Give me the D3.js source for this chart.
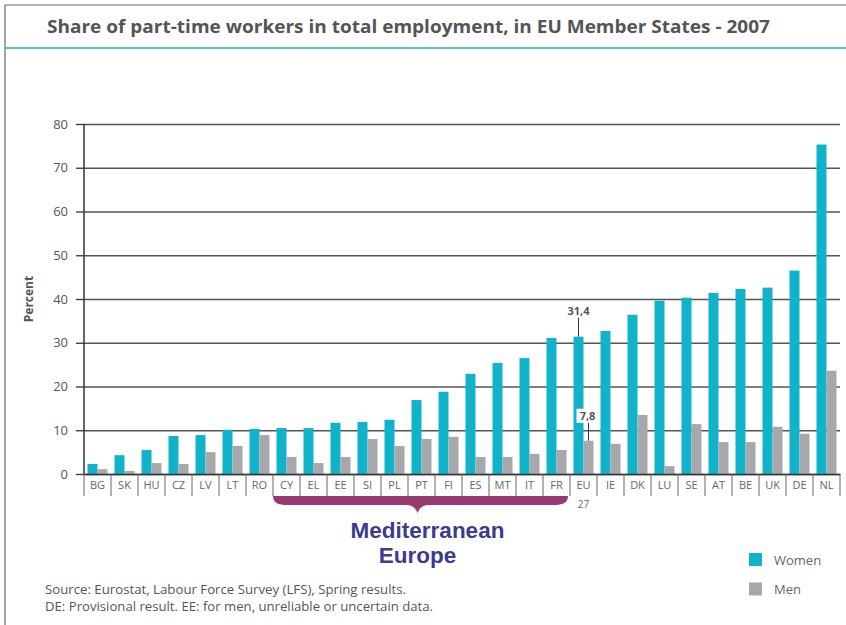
<!DOCTYPE html>
<html>
<head>
<meta charset="utf-8">
<script src="https://cdn.jsdelivr.net/npm/d3@7"></script>
<style>
  body { margin: 0; background: #fff; }
  text { font-family: "Open Sans", sans-serif; }
</style>
</head>
<body>
<div id="chart"></div>
<script>
(function() {

  var width = 846;
  var height = 625;
  var margin = ({top: 124, right: 6, bottom: 151, left: 84});

  // data
  var countries = ['BG', 'SK', 'HU', 'CZ', 'LV', 'LT', 'RO', 'CY', 'EL', 'EE', 'SI', 'PL', 'PT', 'FI',
                   'ES', 'MT', 'IT', 'FR', 'EU', 'IE', 'DK', 'LU', 'SE', 'AT', 'BE', 'UK', 'DE', 'NL'];
  var women = [2.3, 4.3, 5.5, 8.7, 8.9, 10.1, 10.3, 10.5, 10.5, 11.7, 11.9, 12.4, 16.9, 18.8,
               22.9, 25.4, 26.5, 31.1, 31.4, 32.7, 36.4, 39.6, 40.3, 41.4, 42.3, 42.6, 46.5, 75.3];
  var men = [1.1, 0.7, 2.5, 2.3, 5.0, 6.4, 8.9, 3.9, 2.5, 3.9, 8.0, 6.4, 8.0, 8.5,
             3.9, 3.9, 4.6, 5.5, 7.6, 6.9, 13.5, 1.8, 11.4, 7.3, 7.3, 10.8, 9.2, 23.6];
  var series = ['Women', 'Men'];
  var colors = ['#10b3c9', '#a7a8ab'];
  var yTicks = [0, 10, 20, 30, 40, 50, 60, 70, 80];
  var mediterranean = ['CY', 'FR'];

  var data = countries.map((c, i) => ({name: c, values: [
    {key: 'Women', value: women[i]},
    {key: 'Men', value: men[i]}
  ]}));

  var x = d3.scaleBand()
    .domain(countries)
    .range([margin.left, width - margin.right]);

  var x1 = d3.scaleBand()
    .domain(series)
    .range([0, x.bandwidth()])
    .paddingOuter(0.35);

  var y = d3.scaleLinear()
    .domain([0, 80])
    .range([height - margin.bottom, margin.top]);

  var color = d3.scaleOrdinal().domain(series).range(colors);

  const svg = d3.select('#chart')
    .append('svg')
    .attr('width', width)
    .attr('height', height);

  // frame
  svg.append('path')
    .attr('d', `M5,${height} V5 H${width}`)
    .attr('fill', 'none')
    .attr('stroke', '#666')
    .attr('stroke-width', 1.2);

  svg.append('line')
    .attr('x1', 5).attr('x2', width)
    .attr('y1', 48).attr('y2', 48)
    .attr('stroke', '#1bb5cc')
    .attr('stroke-width', 1.5);

  svg.append('text')
    .attr('x', 47).attr('y', 33)
    .attr('font-size', 18.5)
    .attr('font-weight', 'bold')
    .attr('fill', '#555')
    .attr('textLength', 723)
    .attr('lengthAdjust', 'spacingAndGlyphs')
    .text('Share of part-time workers in total employment, in EU Member States - 2007');

  // gridlines
  svg.append('g')
    .attr('transform', `translate(${margin.left},0)`)
    .call(d3.axisLeft(y).tickValues(yTicks).tickSize(-(width - margin.right - margin.left)).tickFormat(''))
    .call(g => g.select('.domain').remove())
    .call(g => g.selectAll('.tick line').attr('stroke', '#555').attr('stroke-width', 1.3));

  // y axis
  svg.append('g')
    .attr('transform', `translate(${margin.left},0)`)
    .call(d3.axisLeft(y).tickValues(yTicks).tickSize(8).tickPadding(8))
    .call(g => g.select('.domain').attr('stroke', '#333').attr('stroke-width', 1.5).attr('d', `M0,${y(80)}V${y(0)}`))
    .call(g => g.selectAll('.tick line').attr('stroke', '#333').attr('stroke-width', 1.3))
    .call(g => g.selectAll('.tick text').attr('font-size', 13).attr('fill', '#555'));

  svg.append('text')
    .attr('transform', `translate(33,${(y(0) + y(80)) / 2}) rotate(-90)`)
    .attr('text-anchor', 'middle')
    .attr('font-size', 12)
    .attr('font-weight', 'bold')
    .attr('fill', '#555')
    .text('Percent');

  // bars
  svg.append('g')
    .selectAll('g')
    .data(data)
    .join('g')
      .attr('transform', d => `translate(${x(d.name)},0)`)
    .selectAll('rect')
    .data(d => d.values)
    .join('rect')
      .attr('x', d => x1(d.key))
      .attr('y', d => y(d.value))
      .attr('width', x1.bandwidth())
      .attr('height', d => y(0) - y(d.value))
      .attr('fill', d => color(d.key));

  // x axis
  const gx = svg.append('g')
    .attr('transform', `translate(0,${y(0)})`)
    .call(d3.axisBottom(x).tickSize(0).tickPadding(7))
    .call(g => g.select('.domain').attr('stroke', '#333').attr('stroke-width', 1.5))
    .call(g => g.selectAll('.tick text').attr('font-size', 11).attr('fill', '#666'));

  gx.append('g')
    .selectAll('line')
    .data(countries.map(c => x(c)).concat([x.range()[1]]))
    .join('line')
      .attr('x1', d => d).attr('x2', d => d)
      .attr('y1', 0).attr('y2', 22)
      .attr('stroke', '#666')
      .attr('stroke-width', 1);

  svg.append('text')
    .attr('x', x('EU') + x.bandwidth() / 2)
    .attr('y', y(0) + 34)
    .attr('text-anchor', 'middle')
    .attr('font-size', 10)
    .attr('fill', '#666')
    .text('27');

  // EU annotations
  var euW = x('EU') + x1('Women') + x1.bandwidth() / 2;
  var euM = x('EU') + x1('Men') + x1.bandwidth() / 2;
  var ann = svg.append('g');
  ann.append('line')
    .attr('x1', euW).attr('x2', euW)
    .attr('y1', y(31.4) - 19).attr('y2', y(31.4))
    .attr('stroke', '#333');
  ann.append('text')
    .attr('x', euW).attr('y', y(31.4) - 22)
    .attr('text-anchor', 'middle')
    .attr('font-size', 11)
    .attr('font-weight', 'bold')
    .attr('fill', '#555')
    .text('31,4');
  ann.append('rect')
    .attr('x', euM - 12).attr('y', y(7.6) - 32)
    .attr('width', 23).attr('height', 14)
    .attr('fill', '#fff');
  ann.append('line')
    .attr('x1', euM).attr('x2', euM)
    .attr('y1', y(7.6) - 18).attr('y2', y(7.6))
    .attr('stroke', '#333');
  ann.append('text')
    .attr('x', euM - 1).attr('y', y(7.6) - 21)
    .attr('text-anchor', 'middle')
    .attr('font-size', 11)
    .attr('font-weight', 'bold')
    .attr('fill', '#555')
    .text('7,8');

  // Mediterranean brace
  var bx0 = x(mediterranean[0]);
  var bx1 = x(mediterranean[1]) + x.bandwidth() - 2;
  var bm = (bx0 + bx1) / 2 - 3;
  var by = y(0) + 22;
  svg.append('path')
    .attr('d', `M${bx0},${by} H${bx1}
      C${bx1},${by + 7} ${bx1 - 6},${by + 9} ${bx1 - 14},${by + 9}
      H${bm + 12} C${bm + 5},${by + 9} ${bm + 2},${by + 12} ${bm},${by + 17}
      C${bm - 2},${by + 12} ${bm - 5},${by + 9} ${bm - 12},${by + 9}
      H${bx0 + 14} C${bx0 + 6},${by + 9} ${bx0},${by + 7} ${bx0},${by} Z`)
    .attr('fill', '#993a6f');

  const med = svg.append('text')
    .attr('text-anchor', 'middle')
    .style('font-family', '"Liberation Sans", Arial, sans-serif')
    .attr('font-size', 22.5)
    .attr('font-weight', 'bold')
    .attr('fill', '#3b3b8f');
  med.append('tspan')
    .attr('x', bm + 10).attr('y', 538)
    .text('Mediterranean');
  med.append('tspan')
    .attr('x', bm).attr('y', 563)
    .text('Europe');

  // legend
  const legend = svg.append('g')
    .selectAll('g')
    .data(series)
    .join('g')
      .attr('transform', (d, i) => `translate(749,${553 + i * 29.5})`);
  legend.append('rect')
    .attr('width', 13).attr('height', 13)
    .attr('fill', d => color(d));
  legend.append('text')
    .attr('x', 25).attr('y', 11.5)
    .attr('font-size', 13)
    .attr('fill', '#666')
    .text(d => d);

  // source
  svg.append('text')
    .attr('x', 45).attr('y', 594)
    .attr('font-size', 12)
    .attr('fill', '#555')
    .attr('textLength', 361)
    .attr('lengthAdjust', 'spacingAndGlyphs')
    .text('Source: Eurostat, Labour Force Survey (LFS), Spring results.');
  svg.append('text')
    .attr('x', 45).attr('y', 611)
    .attr('font-size', 12)
    .attr('fill', '#555')
    .attr('textLength', 388)
    .attr('lengthAdjust', 'spacingAndGlyphs')
    .text('DE: Provisional result. EE: for men, unreliable or uncertain data.');

})();
</script>
</body>
</html>
